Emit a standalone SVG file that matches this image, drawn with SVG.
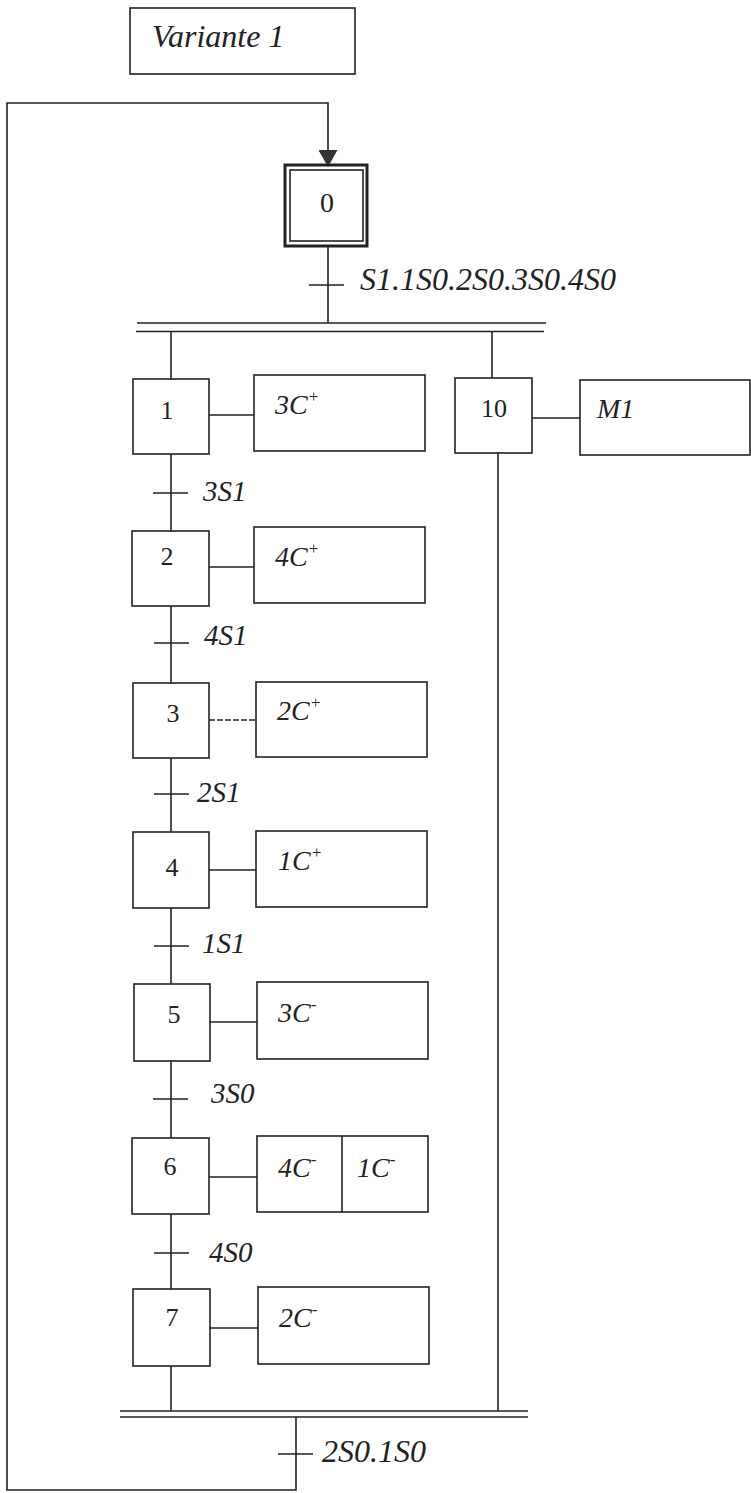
<svg xmlns="http://www.w3.org/2000/svg" width="751" height="1493" viewBox="0 0 751 1493">
<defs>
<marker id="arr" viewBox="0 0 17 19" refX="16" refY="9.5" markerWidth="17" markerHeight="19" markerUnits="userSpaceOnUse" orient="auto">
<path d="M0,0 L17,9.5 L0,19 z" fill="#333"/>
</marker>
<style>
.bx{fill:none;stroke:#222;stroke-width:1.6}
.ln{fill:none;stroke:#222;stroke-width:1.6}
.num{font-family:"Liberation Serif",serif;font-size:26px;fill:#222;text-anchor:middle}
.lab{font-family:"Liberation Serif",serif;font-style:italic;font-size:29px;fill:#222}
.big{font-size:32px}
.act{font-family:"Liberation Serif",serif;font-style:italic;font-size:28px;fill:#222}
.sup{font-size:17px}
</style>
</defs>
<rect width="751" height="1493" fill="#fff"/>

<g id="title">
<rect class="bx" x="130" y="8" width="225" height="66"/>
<text class="lab big" x="152" y="47">Variante 1</text>
</g>

<g id="connectors">
<path class="ln" d="M296,1417 V1490 H7 V103 H328 V166" marker-end="url(#arr)"/>
<line class="ln" x1="328" y1="247" x2="328" y2="323"/>
<line class="ln" x1="309" y1="285" x2="344" y2="285"/>
<line class="ln" x1="137" y1="323" x2="546" y2="323"/>
<line class="ln" x1="136" y1="331.5" x2="544" y2="331.5"/>
<line class="ln" x1="171" y1="331.5" x2="171" y2="379"/>
<line class="ln" x1="492" y1="331.5" x2="492" y2="378"/>
<line class="ln" x1="171" y1="454" x2="171" y2="531"/>
<line class="ln" x1="153" y1="493" x2="188" y2="493"/>
<line class="ln" x1="171" y1="606" x2="171" y2="683"/>
<line class="ln" x1="154" y1="643" x2="189" y2="643"/>
<line class="ln" x1="171" y1="758" x2="171" y2="832"/>
<line class="ln" x1="154" y1="794" x2="189" y2="794"/>
<line class="ln" x1="171" y1="908" x2="171" y2="984"/>
<line class="ln" x1="154" y1="946" x2="189" y2="946"/>
<line class="ln" x1="171" y1="1061" x2="171" y2="1138"/>
<line class="ln" x1="153" y1="1099" x2="188" y2="1099"/>
<line class="ln" x1="171" y1="1214" x2="171" y2="1289"/>
<line class="ln" x1="154" y1="1253" x2="189" y2="1253"/>
<line class="ln" x1="171" y1="1366" x2="171" y2="1411"/>
<line class="ln" x1="498" y1="453" x2="498" y2="1411"/>
<line class="ln" x1="120" y1="1411" x2="528" y2="1411"/>
<line class="ln" x1="120" y1="1417" x2="528" y2="1417"/>
<line class="ln" x1="278" y1="1454" x2="313" y2="1454"/>
<line class="ln" x1="209" y1="415" x2="254" y2="415"/>
<line class="ln" x1="209" y1="567" x2="254" y2="567"/>
<line class="ln" x1="209" y1="720" x2="256" y2="720" stroke-width="1" stroke-dasharray="6 2"/>
<line class="ln" x1="209" y1="870" x2="256" y2="870"/>
<line class="ln" x1="210" y1="1022" x2="257" y2="1022"/>
<line class="ln" x1="209" y1="1177" x2="257" y2="1177"/>
<line class="ln" x1="210" y1="1328" x2="258" y2="1328"/>
<line class="ln" x1="532" y1="418" x2="580" y2="418"/>
<text class="lab big" x="360" y="290">S1.1S0.2S0.3S0.4S0</text>
<text class="lab" x="203" y="501">3S1</text>
<text class="lab" x="204" y="645">4S1</text>
<text class="lab" x="197" y="802">2S1</text>
<text class="lab" x="202" y="953">1S1</text>
<text class="lab" x="211" y="1103">3S0</text>
<text class="lab" x="209" y="1262">4S0</text>
<text class="lab big" x="322" y="1462">2S0.1S0</text>
</g>

<g id="step0">
<rect x="285" y="165" width="82" height="81" fill="none" stroke="#222" stroke-width="3"/>
<rect class="bx" x="290" y="170" width="73" height="71"/>
<text class="num" x="327" y="212" style="font-size:28px">0</text>
</g>

<g id="step1">
<rect class="bx" x="133" y="379" width="76" height="75"/>
<text class="num" x="167" y="419">1</text>
</g>
<g id="action1">
<rect class="bx" x="254" y="375" width="171" height="76"/>
<text class="act" x="275" y="414">3C<tspan class="sup" dy="-12">+</tspan></text>
</g>

<g id="step10">
<rect class="bx" x="455" y="378" width="77" height="75"/>
<text class="num" x="494" y="417">10</text>
</g>
<g id="action10">
<rect class="bx" x="580" y="380" width="170" height="75"/>
<text class="act" x="597" y="418">M1</text>
</g>

<g id="step2">
<rect class="bx" x="132" y="531" width="77" height="75"/>
<text class="num" x="167" y="565">2</text>
</g>
<g id="action2">
<rect class="bx" x="254" y="527" width="171" height="76"/>
<text class="act" x="275" y="566">4C<tspan class="sup" dy="-12">+</tspan></text>
</g>

<g id="step3">
<rect class="bx" x="133" y="683" width="76" height="75"/>
<text class="num" x="173" y="722">3</text>
</g>
<g id="action3">
<rect class="bx" x="256" y="682" width="171" height="75"/>
<text class="act" x="277" y="720">2C<tspan class="sup" dy="-12">+</tspan></text>
</g>

<g id="step4">
<rect class="bx" x="133" y="832" width="76" height="76"/>
<text class="num" x="172" y="876">4</text>
</g>
<g id="action4">
<rect class="bx" x="256" y="831" width="171" height="76"/>
<text class="act" x="278" y="870">1C<tspan class="sup" dy="-12">+</tspan></text>
</g>

<g id="step5">
<rect class="bx" x="134" y="984" width="76" height="77"/>
<text class="num" x="174" y="1023">5</text>
</g>
<g id="action5">
<rect class="bx" x="257" y="982" width="171" height="77"/>
<text class="act" x="278" y="1022">3C<tspan class="sup" dy="-12">-</tspan></text>
</g>

<g id="step6">
<rect class="bx" x="132" y="1138" width="77" height="76"/>
<text class="num" x="170" y="1175">6</text>
</g>
<g id="action6">
<rect class="bx" x="257" y="1136" width="171" height="76"/>
<line class="ln" x1="342" y1="1136" x2="342" y2="1212"/>
<text class="act" x="278" y="1177">4C<tspan class="sup" dy="-12">-</tspan></text>
<text class="act" x="357" y="1177">1C<tspan class="sup" dy="-12">-</tspan></text>
</g>

<g id="step7">
<rect class="bx" x="133" y="1289" width="77" height="77"/>
<text class="num" x="172" y="1326">7</text>
</g>
<g id="action7">
<rect class="bx" x="258" y="1287" width="171" height="77"/>
<text class="act" x="279" y="1327">2C<tspan class="sup" dy="-12">-</tspan></text>
</g>
</svg>
